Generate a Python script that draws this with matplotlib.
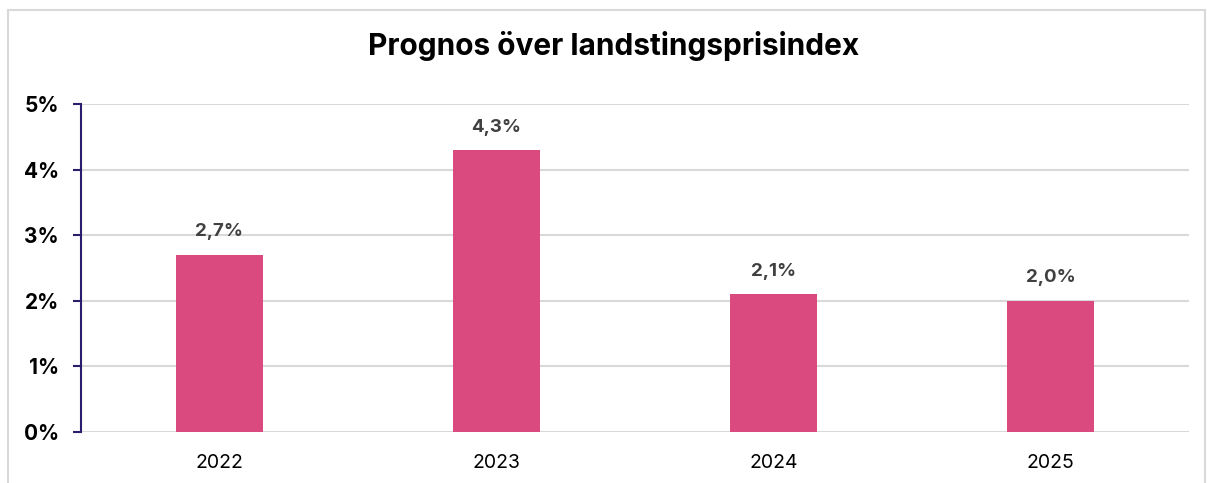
import matplotlib.pyplot as plt
from matplotlib.patches import Rectangle

# data
years = ['2022', '2023', '2024', '2025']
values = [2.7, 4.3, 2.1, 2.0]
bar_labels = ['2,7%', '4,3%', '2,1%', '2,0%']
y_ticks = [0, 1, 2, 3, 4, 5]

plt.rcParams['font.family'] = ['Inter', 'DejaVu Sans']

fig = plt.figure(figsize=(12.07, 4.83), dpi=100)
ax = fig.add_axes([0.0671, 0.1056, 0.918, 0.679])

# light border around the whole chart
fig.patches.append(Rectangle((0.0066, -0.01), 0.992, 0.99, transform=fig.transFigure,
                             fill=False, edgecolor='#d9d9d9', linewidth=1.5))

x = range(len(years))
ax.bar(x, values, width=0.315, color='#DB4A7E', zorder=3)

for i, (v, lab) in enumerate(zip(values, bar_labels)):
    ax.text(i, v + 0.22, lab, ha='center', va='bottom', fontsize=13.5,
            fontweight='bold', color='#404040')

ax.set_xlim(-0.5, 3.5)
ax.set_ylim(0, 5)
ax.set_yticks(y_ticks)
ax.set_yticklabels([f'{t}%' for t in y_ticks], fontsize=15, fontweight='bold')
ax.set_xticks(list(x))
ax.set_xticklabels(years, fontsize=14)

ax.yaxis.grid(True, color='#d9d9d9', linewidth=1.5, zorder=0)
ax.set_axisbelow(True)
for s in ['top', 'right', 'bottom']:
    ax.spines[s].set_visible(False)
ax.spines['left'].set_color('#2b1d6b')
ax.spines['left'].set_linewidth(1.5)
ax.tick_params(axis='y', length=6, width=1.5, color='#2b1d6b', pad=10)
ax.tick_params(axis='x', length=0, pad=16)

fig.suptitle('Prognos över landstingsprisindex', x=0.508, y=0.935,
             fontsize=21.5, fontweight='bold')

fig.savefig('out.png', dpi=100)
